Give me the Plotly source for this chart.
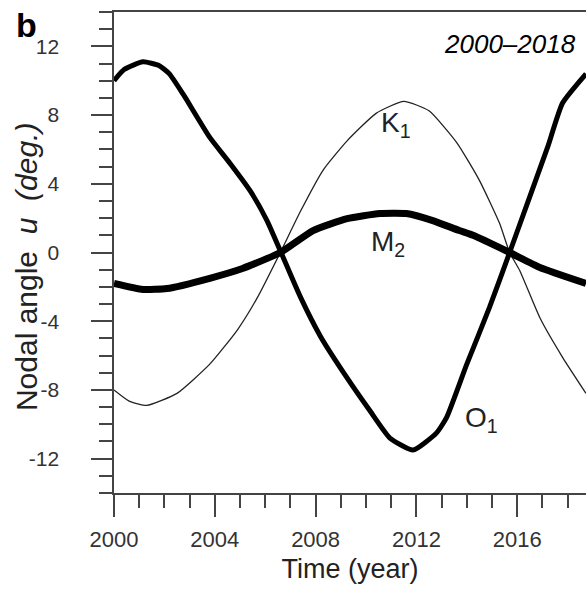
import plotly.graph_objects as go

# (year, nodal angle in degrees)
o1_year = [2000.0, 2000.4, 2001.15, 2001.8, 2002.2, 2002.75, 2003.8, 2004.6, 2005.4, 2006.07, 2006.6,
           2007.4, 2008.2, 2009.25, 2010.15, 2010.95, 2011.87, 2012.8, 2013.2, 2014.0, 2014.9,
           2015.7, 2016.4, 2017.2, 2017.8, 2018.73]
o1_val = [10.0, 10.65, 11.1, 10.87, 10.4, 9.2, 6.7, 5.2, 3.6, 1.86, 0.1,
          -2.6, -4.9, -7.3, -9.2, -10.8, -11.5, -10.5, -9.6, -6.5, -3.2,
          0.0, 2.85, 6.1, 8.7, 10.4]

k1_year = [2000.0, 2000.6, 2001.3, 2002.5, 2003.8, 2004.9, 2005.7, 2006.6, 2007.4, 2008.3, 2009.25,
           2010.4, 2011.5, 2012.5, 2013.6, 2014.5, 2015.3, 2015.7, 2016.1, 2016.9, 2017.8, 2018.73]
k1_val = [-8.0, -8.65, -8.9, -8.2, -6.5, -4.5, -2.6, 0.0, 2.4, 4.8, 6.5,
          8.1, 8.8, 8.25, 6.4, 4.2, 1.7, 0.0, -1.05, -3.8, -6.1, -8.2]

m2_year = [2000.0, 2001.15, 2002.1, 2003.8, 2005.1, 2006.6, 2007.9, 2009.25, 2010.55, 2011.6,
           2012.65, 2013.7, 2014.25, 2015.7, 2016.9, 2018.73]
m2_val = [-1.8, -2.15, -2.1, -1.5, -0.93, 0.0, 1.28, 1.97, 2.27, 2.27,
          1.86, 1.28, 1.0, 0.0, -0.87, -1.8]

x_ticks = [2000, 2004, 2008, 2012, 2016]
y_ticks = [-12, -8, -4, 0, 4, 8, 12]

FONT = "Liberation Sans, Arial, sans-serif"

fig = go.Figure()
fig.add_trace(go.Scatter(x=k1_year, y=k1_val, mode="lines", name="K1",
                         line=dict(color="#222222", width=1.3, shape="spline", smoothing=0.5)))
fig.add_trace(go.Scatter(x=m2_year, y=m2_val, mode="lines", name="M2",
                         line=dict(color="black", width=7, shape="spline", smoothing=0.5)))
fig.add_trace(go.Scatter(x=o1_year, y=o1_val, mode="lines", name="O1",
                         line=dict(color="black", width=5, shape="spline", smoothing=0.5)))

axis_col = "#444444"
fig.update_xaxes(range=[2000, 2018.73], tickvals=x_ticks, ticktext=[str(v) for v in x_ticks],
                 ticks="outside", ticklen=22, tickwidth=1.5, tickcolor=axis_col,
                 minor=dict(dtick=1, tick0=2000, ticks="outside", ticklen=13, tickwidth=1.5, tickcolor=axis_col),
                 showline=True, linecolor=axis_col, linewidth=1.5, mirror=True,
                 showgrid=False, zeroline=False,
                 tickfont=dict(size=22, color="#333333", family=FONT), ticklabelstandoff=4,
                 title=dict(text="Time (year)", font=dict(size=27, color="#222222", family=FONT), standoff=8))
fig.update_yaxes(range=[-14, 14], tickvals=y_ticks, ticktext=[str(v) + "\u00a0" for v in y_ticks],
                 ticks="outside", ticklen=21, tickwidth=1.5, tickcolor=axis_col,
                 minor=dict(dtick=1, tick0=0, ticks="outside", ticklen=13, tickwidth=1.5, tickcolor=axis_col),
                 showline=True, linecolor=axis_col, linewidth=1.5, mirror=False,
                 showgrid=False, zeroline=False,
                 tickfont=dict(size=21, color="#333333", family=FONT), ticklabelstandoff=22)

# y-axis title placed as a rotated annotation for exact position
fig.add_annotation(x=-0.184, y=0.47, xref="paper", yref="paper",
                   text="Nodal angle  <i>u</i>  <i>(deg.)</i>", textangle=-90, showarrow=False,
                   xanchor="center", yanchor="middle",
                   font=dict(size=30, color="#222222", family=FONT))

lab_font = dict(size=28, color="#222222", family=FONT)
fig.add_annotation(x=2010.5, y=7.44, text="K<sub>1</sub>", showarrow=False,
                   xanchor="left", yanchor="middle", font=lab_font)
fig.add_annotation(x=2010.1, y=0.52, text="M<sub>2</sub>", showarrow=False,
                   xanchor="left", yanchor="middle", font=lab_font)
fig.add_annotation(x=2013.85, y=-9.7, text="O<sub>1</sub>", showarrow=False,
                   xanchor="left", yanchor="middle", font=lab_font)
fig.add_annotation(x=0.984, y=0.933, xref="paper", yref="paper", text="<i>2000–2018</i>", showarrow=False,
                   xanchor="right", yanchor="middle", font=dict(size=26, color="black", family=FONT))
fig.add_annotation(x=-0.212, y=1.017, xref="paper", yref="paper", text="<b>b</b>", showarrow=False,
                   xanchor="left", yanchor="top", font=dict(size=34, color="black", family=FONT))

fig.update_layout(width=586, height=596, margin=dict(l=114, r=0, t=12, b=103),
                  paper_bgcolor="white", plot_bgcolor="white", showlegend=False)

fig.write_html("out.html")
